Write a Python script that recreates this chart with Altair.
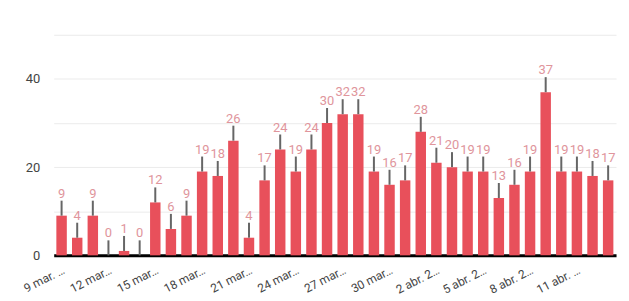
import altair as alt
import pandas as pd

dates = [
    "9 mar. 2020", "10 mar. 2020", "11 mar. 2020", "12 mar. 2020", "13 mar. 2020",
    "14 mar. 2020", "15 mar. 2020", "16 mar. 2020", "17 mar. 2020", "18 mar. 2020",
    "19 mar. 2020", "20 mar. 2020", "21 mar. 2020", "22 mar. 2020", "23 mar. 2020",
    "24 mar. 2020", "25 mar. 2020", "26 mar. 2020", "27 mar. 2020", "28 mar. 2020",
    "29 mar. 2020", "30 mar. 2020", "31 mar. 2020", "1 abr. 2020", "2 abr. 2020",
    "3 abr. 2020", "4 abr. 2020", "5 abr. 2020", "6 abr. 2020", "7 abr. 2020",
    "8 abr. 2020", "9 abr. 2020", "10 abr. 2020", "11 abr. 2020", "12 abr. 2020",
    "13 abr. 2020",
]
values = [9, 4, 9, 0, 1, 0, 12, 6, 9, 19, 18, 26, 4, 17, 24, 19, 24, 30, 32, 32,
          19, 16, 17, 28, 21, 20, 19, 19, 13, 16, 19, 37, 19, 19, 18, 17]
errors = [3.4, 3.4, 3.4, 3.4, 3.4, 3.4, 3.4, 3.4, 3.4, 3.4, 3.4, 3.4, 3.4, 3.4, 3.4,
          3.4, 3.4, 3.4, 3.4, 3.4, 3.4, 3.4, 3.4, 3.4, 3.4, 3.4, 3.4, 3.4, 3.4, 3.4,
          3.4, 3.4, 3.4, 3.4, 3.4, 3.4]
y_ticks = [0, 10, 20, 30, 40, 50]

df = pd.DataFrame({"fecha": dates, "valor": values, "err": errors})
df["top"] = df["valor"] + df["err"]

FONT = "Roboto"
dates_js = str(dates).replace("'", '"')

x_axis = alt.Axis(
    title=None,
    labelAngle=-27, labelAlign="right", labelBaseline="top",
    labelExpr="indexof(" + dates_js + ", datum.value) % 3 == 0 ? datum.label : ''",
    labelLimit=48, labelFont=FONT, labelFontSize=12, labelColor="#444444",
    labelPadding=9, ticks=False, domainColor="#000000", domainWidth=3,
    labelOverlap=False, grid=False, gridOpacity=0,
)
y_axis = alt.Axis(
    title=None,
    values=y_ticks,
    labelExpr="(datum.value % 20 == 0 && datum.value < 50) ? datum.label : ''",
    labelFont=FONT, labelFontSize=13, labelColor="#444444",
    labelPadding=14, ticks=False, domain=False, domainOpacity=0,
    domainColor="transparent",
    gridColor="#ebebeb", gridWidth=1,
)
x_scale = alt.Scale(paddingInner=0.33, paddingOuter=0.17)
y_scale = alt.Scale(domain=[0, 50], nice=False)


def X():
    return alt.X("fecha:N", sort=dates, title=None, scale=x_scale, axis=x_axis)


bars = alt.Chart(df).mark_bar(color="#e8505b").encode(
    x=X(), y=alt.Y("valor:Q", title=None, scale=y_scale, axis=y_axis)
)
whisk = alt.Chart(df).mark_rule(color="#666666", strokeWidth=2).encode(
    x=X(),
    y=alt.Y("valor:Q", title=None, scale=y_scale, axis=y_axis),
    y2="top:Q",
)
labels = alt.Chart(df).mark_text(
    font=FONT, fontSize=13, color="#e0959c", baseline="alphabetic", dy=-3
).encode(
    x=X(),
    y=alt.Y("top:Q", title=None, scale=y_scale, axis=y_axis),
    text="valor:Q",
)

chart = alt.layer(bars, whisk, labels).properties(
    width=566, height=222,
    autosize=alt.AutoSizeParams(type="none"),
    padding={"left": 46, "top": 26, "right": 5, "bottom": 50},
).configure(background="#ffffff").configure_view(
    stroke="transparent", strokeWidth=0
).configure_axisY(domain=False).configure_axisX(grid=False)

chart.save("out.html", embed_options={"renderer": "svg", "actions": False})
